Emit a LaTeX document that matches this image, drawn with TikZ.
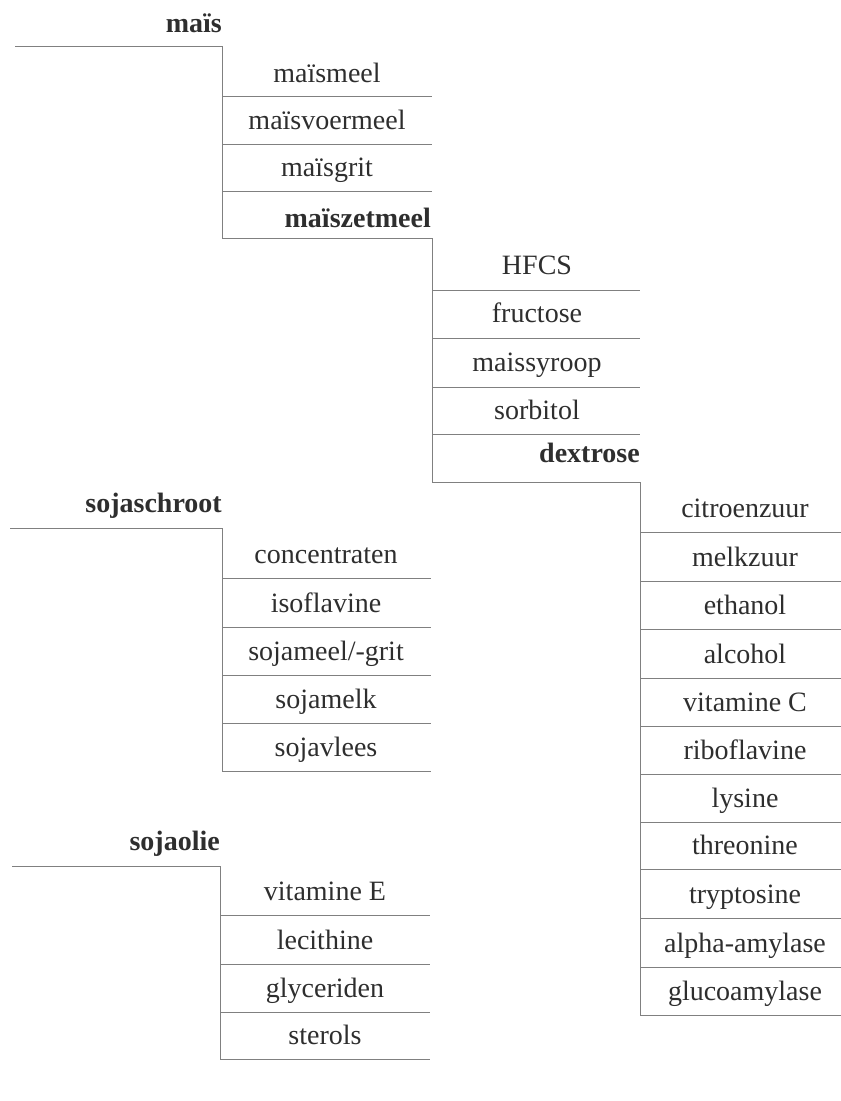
\documentclass[tikz,border=0pt]{standalone}
\usepackage{fontspec}
\setmainfont{Liberation Serif}
\begin{document}
\begin{tikzpicture}[x=1pt,y=-1pt,
  rule/.style={draw=black!50,line width=0.8pt},
  item/.style={text=black!82,font=\fontsize{28}{30}\selectfont,anchor=base,inner sep=0pt},
  head/.style={text=black!82,font=\fontsize{28}{30}\selectfont\bfseries,anchor=base east,inner sep=0pt}]
\useasboundingbox (0,0) rectangle (841,1101);
% ---- maïs block
\node[head] (mais) at (222,32) {maïs};
\draw[rule] (15,46) -- (222,46) -- (222,238);
\foreach \y in {96,144,191,238} \draw[rule] (222,\y) -- (432,\y);
\node[item] (m1) at (327,82) {maïsmeel};
\node[item] (m2) at (327,129) {maïsvoermeel};
\node[item] (m3) at (327,176) {maïsgrit};
\node[head] (m4) at (431,227) {maïszetmeel};
% ---- maïszetmeel block
\draw[rule] (432,238) -- (432,482);
\foreach \y in {290,338,387,434,482} \draw[rule] (432,\y) -- (640,\y);
\node[item] (z1) at (537,274) {HFCS};
\node[item] (z2) at (537,322) {fructose};
\node[item] (z3) at (537,371) {maissyroop};
\node[item] (z4) at (537,419) {sorbitol};
\node[head] (z5) at (640,462) {dextrose};
% ---- dextrose block
\draw[rule] (640,482) -- (640,1015);
\foreach \y in {532,581,629,678,726,774,822,869,918,967,1015} \draw[rule] (640,\y) -- (841,\y);
\node[item] (d1) at (745,517) {citroenzuur};
\node[item] (d2) at (745,566) {melkzuur};
\node[item] (d3) at (745,614) {ethanol};
\node[item] (d4) at (745,663) {alcohol};
\node[item] (d5) at (745,711) {vitamine C};
\node[item] (d6) at (745,759) {riboflavine};
\node[item] (d7) at (745,807) {lysine};
\node[item] (d8) at (745,854) {threonine};
\node[item] (d9) at (745,903) {tryptosine};
\node[item] (d10) at (745,952) {alpha-amylase};
\node[item] (d11) at (745,1000) {glucoamylase};
% ---- sojaschroot block
\node[head] (ss) at (222,512) {sojaschroot};
\draw[rule] (10,528) -- (222,528) -- (222,771);
\foreach \y in {578,627,675,723,771} \draw[rule] (222,\y) -- (431,\y);
\node[item] (s1) at (326,563) {concentraten};
\node[item] (s2) at (326,612) {isoflavine};
\node[item] (s3) at (326,660) {sojameel/-grit};
\node[item] (s4) at (326,708) {sojamelk};
\node[item] (s5) at (326,756) {sojavlees};
% ---- sojaolie block
\node[head] (so) at (220,850) {sojaolie};
\draw[rule] (12,866) -- (220,866) -- (220,1059);
\foreach \y in {915,964,1012,1059} \draw[rule] (220,\y) -- (430,\y);
\node[item] (o1) at (325,900) {vitamine E};
\node[item] (o2) at (325,949) {lecithine};
\node[item] (o3) at (325,997) {glyceriden};
\node[item] (o4) at (325,1044) {sterols};
\end{tikzpicture}
\end{document}
